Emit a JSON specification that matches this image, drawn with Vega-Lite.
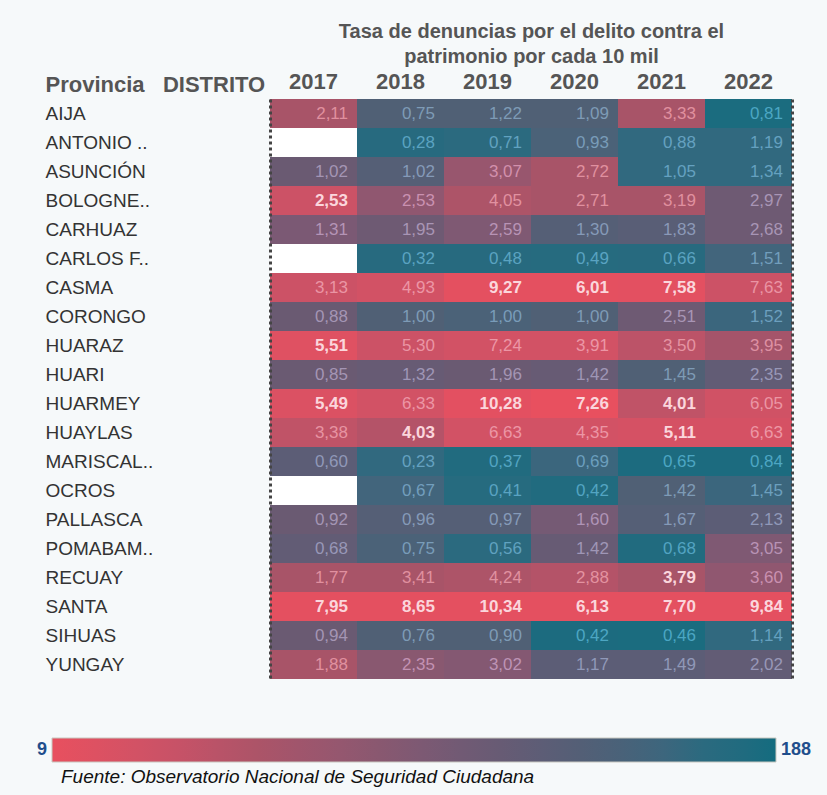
{
  "$schema": "https://vega.github.io/schema/vega-lite/v6.json",
  "width": 522,
  "height": 580,
  "autosize": "none",
  "padding": {"left": 270, "top": 99, "right": 35, "bottom": 116},
  "background": "#f6f9fa",
  "config": {
    "locale": {"number": {"decimal": ",", "thousands": ".", "grouping": [3], "currency": ["", " €"]}},
    "view": {"fill": "white", "stroke": null},
    "font": "Arial"
  },
  "title": {
    "text": "Fuente: Observatorio Nacional de Seguridad Ciudadana",
    "orient": "bottom",
    "anchor": "start",
    "dx": 16,
    "offset": 5,
    "fontSize": 19,
    "fontStyle": "italic",
    "fontWeight": "normal",
    "color": "#111",
    "font": "Arial"
  },
  "data": {"values": [
    {"provincia": "AIJA", "anio": "2017", "tasa": 2.11, "rango": 63, "destacado": 0},
    {"provincia": "AIJA", "anio": "2018", "tasa": 0.75, "rango": 143, "destacado": 0},
    {"provincia": "AIJA", "anio": "2019", "tasa": 1.22, "rango": 143, "destacado": 0},
    {"provincia": "AIJA", "anio": "2020", "tasa": 1.09, "rango": 143, "destacado": 0},
    {"provincia": "AIJA", "anio": "2021", "tasa": 3.33, "rango": 63, "destacado": 0},
    {"provincia": "AIJA", "anio": "2022", "tasa": 0.81, "rango": 184, "destacado": 0},
    {"provincia": "ANTONIO ..", "anio": "2018", "tasa": 0.28, "rango": 174, "destacado": 0},
    {"provincia": "ANTONIO ..", "anio": "2019", "tasa": 0.71, "rango": 170, "destacado": 0},
    {"provincia": "ANTONIO ..", "anio": "2020", "tasa": 0.93, "rango": 149, "destacado": 0},
    {"provincia": "ANTONIO ..", "anio": "2021", "tasa": 0.88, "rango": 167, "destacado": 0},
    {"provincia": "ANTONIO ..", "anio": "2022", "tasa": 1.19, "rango": 167, "destacado": 0},
    {"provincia": "ASUNCIÓN", "anio": "2017", "tasa": 1.02, "rango": 116, "destacado": 0},
    {"provincia": "ASUNCIÓN", "anio": "2018", "tasa": 1.02, "rango": 138, "destacado": 0},
    {"provincia": "ASUNCIÓN", "anio": "2019", "tasa": 3.07, "rango": 77, "destacado": 0},
    {"provincia": "ASUNCIÓN", "anio": "2020", "tasa": 2.72, "rango": 63, "destacado": 0},
    {"provincia": "ASUNCIÓN", "anio": "2021", "tasa": 1.05, "rango": 167, "destacado": 0},
    {"provincia": "ASUNCIÓN", "anio": "2022", "tasa": 1.34, "rango": 167, "destacado": 0},
    {"provincia": "BOLOGNE..", "anio": "2017", "tasa": 2.53, "rango": 36, "destacado": 1},
    {"provincia": "BOLOGNE..", "anio": "2018", "tasa": 2.53, "rango": 84, "destacado": 0},
    {"provincia": "BOLOGNE..", "anio": "2019", "tasa": 4.05, "rango": 59, "destacado": 0},
    {"provincia": "BOLOGNE..", "anio": "2020", "tasa": 2.71, "rango": 63, "destacado": 0},
    {"provincia": "BOLOGNE..", "anio": "2021", "tasa": 3.19, "rango": 63, "destacado": 0},
    {"provincia": "BOLOGNE..", "anio": "2022", "tasa": 2.97, "rango": 113, "destacado": 0},
    {"provincia": "CARHUAZ", "anio": "2017", "tasa": 1.31, "rango": 102, "destacado": 0},
    {"provincia": "CARHUAZ", "anio": "2018", "tasa": 1.95, "rango": 113, "destacado": 0},
    {"provincia": "CARHUAZ", "anio": "2019", "tasa": 2.59, "rango": 99, "destacado": 0},
    {"provincia": "CARHUAZ", "anio": "2020", "tasa": 1.30, "rango": 138, "destacado": 0},
    {"provincia": "CARHUAZ", "anio": "2021", "tasa": 1.83, "rango": 134, "destacado": 0},
    {"provincia": "CARHUAZ", "anio": "2022", "tasa": 2.68, "rango": 113, "destacado": 0},
    {"provincia": "CARLOS F..", "anio": "2018", "tasa": 0.32, "rango": 174, "destacado": 0},
    {"provincia": "CARLOS F..", "anio": "2019", "tasa": 0.48, "rango": 174, "destacado": 0},
    {"provincia": "CARLOS F..", "anio": "2020", "tasa": 0.49, "rango": 175, "destacado": 0},
    {"provincia": "CARLOS F..", "anio": "2021", "tasa": 0.66, "rango": 174, "destacado": 0},
    {"provincia": "CARLOS F..", "anio": "2022", "tasa": 1.51, "rango": 156, "destacado": 0},
    {"provincia": "CASMA", "anio": "2017", "tasa": 3.13, "rango": 36, "destacado": 0},
    {"provincia": "CASMA", "anio": "2018", "tasa": 4.93, "rango": 30, "destacado": 0},
    {"provincia": "CASMA", "anio": "2019", "tasa": 9.27, "rango": 13, "destacado": 1},
    {"provincia": "CASMA", "anio": "2020", "tasa": 6.01, "rango": 13, "destacado": 1},
    {"provincia": "CASMA", "anio": "2021", "tasa": 7.58, "rango": 14, "destacado": 1},
    {"provincia": "CASMA", "anio": "2022", "tasa": 7.63, "rango": 36, "destacado": 0},
    {"provincia": "CORONGO", "anio": "2017", "tasa": 0.88, "rango": 116, "destacado": 0},
    {"provincia": "CORONGO", "anio": "2018", "tasa": 1.00, "rango": 143, "destacado": 0},
    {"provincia": "CORONGO", "anio": "2019", "tasa": 1.00, "rango": 149, "destacado": 0},
    {"provincia": "CORONGO", "anio": "2020", "tasa": 1.00, "rango": 143, "destacado": 0},
    {"provincia": "CORONGO", "anio": "2021", "tasa": 2.51, "rango": 113, "destacado": 0},
    {"provincia": "CORONGO", "anio": "2022", "tasa": 1.52, "rango": 161, "destacado": 0},
    {"provincia": "HUARAZ", "anio": "2017", "tasa": 5.51, "rango": 18, "destacado": 1},
    {"provincia": "HUARAZ", "anio": "2018", "tasa": 5.30, "rango": 36, "destacado": 0},
    {"provincia": "HUARAZ", "anio": "2019", "tasa": 7.24, "rango": 30, "destacado": 0},
    {"provincia": "HUARAZ", "anio": "2020", "tasa": 3.91, "rango": 30, "destacado": 0},
    {"provincia": "HUARAZ", "anio": "2021", "tasa": 3.50, "rango": 48, "destacado": 0},
    {"provincia": "HUARAZ", "anio": "2022", "tasa": 3.95, "rango": 66, "destacado": 0},
    {"provincia": "HUARI", "anio": "2017", "tasa": 0.85, "rango": 116, "destacado": 0},
    {"provincia": "HUARI", "anio": "2018", "tasa": 1.32, "rango": 120, "destacado": 0},
    {"provincia": "HUARI", "anio": "2019", "tasa": 1.96, "rango": 116, "destacado": 0},
    {"provincia": "HUARI", "anio": "2020", "tasa": 1.42, "rango": 120, "destacado": 0},
    {"provincia": "HUARI", "anio": "2021", "tasa": 1.45, "rango": 143, "destacado": 0},
    {"provincia": "HUARI", "anio": "2022", "tasa": 2.35, "rango": 125, "destacado": 0},
    {"provincia": "HUARMEY", "anio": "2017", "tasa": 5.49, "rango": 22, "destacado": 1},
    {"provincia": "HUARMEY", "anio": "2018", "tasa": 6.33, "rango": 30, "destacado": 0},
    {"provincia": "HUARMEY", "anio": "2019", "tasa": 10.28, "rango": 14, "destacado": 1},
    {"provincia": "HUARMEY", "anio": "2020", "tasa": 7.26, "rango": 9, "destacado": 1},
    {"provincia": "HUARMEY", "anio": "2021", "tasa": 4.01, "rango": 45, "destacado": 1},
    {"provincia": "HUARMEY", "anio": "2022", "tasa": 6.05, "rango": 32, "destacado": 0},
    {"provincia": "HUAYLAS", "anio": "2017", "tasa": 3.38, "rango": 45, "destacado": 0},
    {"provincia": "HUAYLAS", "anio": "2018", "tasa": 4.03, "rango": 54, "destacado": 1},
    {"provincia": "HUAYLAS", "anio": "2019", "tasa": 6.63, "rango": 30, "destacado": 0},
    {"provincia": "HUAYLAS", "anio": "2020", "tasa": 4.35, "rango": 30, "destacado": 0},
    {"provincia": "HUAYLAS", "anio": "2021", "tasa": 5.11, "rango": 27, "destacado": 1},
    {"provincia": "HUAYLAS", "anio": "2022", "tasa": 6.63, "rango": 27, "destacado": 0},
    {"provincia": "MARISCAL..", "anio": "2017", "tasa": 0.60, "rango": 131, "destacado": 0},
    {"provincia": "MARISCAL..", "anio": "2018", "tasa": 0.23, "rango": 167, "destacado": 0},
    {"provincia": "MARISCAL..", "anio": "2019", "tasa": 0.37, "rango": 179, "destacado": 0},
    {"provincia": "MARISCAL..", "anio": "2020", "tasa": 0.69, "rango": 161, "destacado": 0},
    {"provincia": "MARISCAL..", "anio": "2021", "tasa": 0.65, "rango": 183, "destacado": 0},
    {"provincia": "MARISCAL..", "anio": "2022", "tasa": 0.84, "rango": 183, "destacado": 0},
    {"provincia": "OCROS", "anio": "2018", "tasa": 0.67, "rango": 156, "destacado": 0},
    {"provincia": "OCROS", "anio": "2019", "tasa": 0.41, "rango": 175, "destacado": 0},
    {"provincia": "OCROS", "anio": "2020", "tasa": 0.42, "rango": 179, "destacado": 0},
    {"provincia": "OCROS", "anio": "2021", "tasa": 1.42, "rango": 143, "destacado": 0},
    {"provincia": "OCROS", "anio": "2022", "tasa": 1.45, "rango": 161, "destacado": 0},
    {"provincia": "PALLASCA", "anio": "2017", "tasa": 0.92, "rango": 116, "destacado": 0},
    {"provincia": "PALLASCA", "anio": "2018", "tasa": 0.96, "rango": 138, "destacado": 0},
    {"provincia": "PALLASCA", "anio": "2019", "tasa": 0.97, "rango": 138, "destacado": 0},
    {"provincia": "PALLASCA", "anio": "2020", "tasa": 1.60, "rango": 107, "destacado": 0},
    {"provincia": "PALLASCA", "anio": "2021", "tasa": 1.67, "rango": 138, "destacado": 0},
    {"provincia": "PALLASCA", "anio": "2022", "tasa": 2.13, "rango": 131, "destacado": 0},
    {"provincia": "POMABAM..", "anio": "2017", "tasa": 0.68, "rango": 125, "destacado": 0},
    {"provincia": "POMABAM..", "anio": "2018", "tasa": 0.75, "rango": 149, "destacado": 0},
    {"provincia": "POMABAM..", "anio": "2019", "tasa": 0.56, "rango": 170, "destacado": 0},
    {"provincia": "POMABAM..", "anio": "2020", "tasa": 1.42, "rango": 120, "destacado": 0},
    {"provincia": "POMABAM..", "anio": "2021", "tasa": 0.68, "rango": 179, "destacado": 0},
    {"provincia": "POMABAM..", "anio": "2022", "tasa": 3.05, "rango": 99, "destacado": 0},
    {"provincia": "RECUAY", "anio": "2017", "tasa": 1.77, "rango": 63, "destacado": 0},
    {"provincia": "RECUAY", "anio": "2018", "tasa": 3.41, "rango": 63, "destacado": 0},
    {"provincia": "RECUAY", "anio": "2019", "tasa": 4.24, "rango": 59, "destacado": 0},
    {"provincia": "RECUAY", "anio": "2020", "tasa": 2.88, "rango": 54, "destacado": 0},
    {"provincia": "RECUAY", "anio": "2021", "tasa": 3.79, "rango": 63, "destacado": 1},
    {"provincia": "RECUAY", "anio": "2022", "tasa": 3.60, "rango": 84, "destacado": 0},
    {"provincia": "SANTA", "anio": "2017", "tasa": 7.95, "rango": 13, "destacado": 1},
    {"provincia": "SANTA", "anio": "2018", "tasa": 8.65, "rango": 13, "destacado": 1},
    {"provincia": "SANTA", "anio": "2019", "tasa": 10.34, "rango": 13, "destacado": 1},
    {"provincia": "SANTA", "anio": "2020", "tasa": 6.13, "rango": 13, "destacado": 1},
    {"provincia": "SANTA", "anio": "2021", "tasa": 7.70, "rango": 13, "destacado": 1},
    {"provincia": "SANTA", "anio": "2022", "tasa": 9.84, "rango": 13, "destacado": 1},
    {"provincia": "SIHUAS", "anio": "2017", "tasa": 0.94, "rango": 116, "destacado": 0},
    {"provincia": "SIHUAS", "anio": "2018", "tasa": 0.76, "rango": 143, "destacado": 0},
    {"provincia": "SIHUAS", "anio": "2019", "tasa": 0.90, "rango": 143, "destacado": 0},
    {"provincia": "SIHUAS", "anio": "2020", "tasa": 0.42, "rango": 183, "destacado": 0},
    {"provincia": "SIHUAS", "anio": "2021", "tasa": 0.46, "rango": 184, "destacado": 0},
    {"provincia": "SIHUAS", "anio": "2022", "tasa": 1.14, "rango": 167, "destacado": 0},
    {"provincia": "YUNGAY", "anio": "2017", "tasa": 1.88, "rango": 63, "destacado": 0},
    {"provincia": "YUNGAY", "anio": "2018", "tasa": 2.35, "rango": 90, "destacado": 0},
    {"provincia": "YUNGAY", "anio": "2019", "tasa": 3.02, "rango": 95, "destacado": 0},
    {"provincia": "YUNGAY", "anio": "2020", "tasa": 1.17, "rango": 131, "destacado": 0},
    {"provincia": "YUNGAY", "anio": "2021", "tasa": 1.49, "rango": 131, "destacado": 0},
    {"provincia": "YUNGAY", "anio": "2022", "tasa": 2.02, "rango": 125, "destacado": 0}
  ]},
  "encoding": {
    "x": {
      "field": "anio", "type": "ordinal", "sort": null,
      "scale": {"paddingInner": 0, "paddingOuter": 0},
      "axis": {
        "orient": "top", "ticks": false, "domain": false,
        "labelAngle": 0, "labelFontSize": 22, "labelFontWeight": "bold", "labelColor": "#555",
        "labelPadding": 6, "labelFont": "Arial",
        "title": ["Tasa de denuncias por el delito contra el", "patrimonio por cada 10 mil"],
        "titleFontSize": 20, "titleFontWeight": "bold", "titleColor": "#555", "titleFont": "Arial",
        "titlePadding": 4, "titleLineHeight": 25
      }
    }
  },
  "layer": [
    {
      "mark": {"type": "rect"},
      "encoding": {
        "y": {
          "field": "provincia", "type": "nominal", "sort": null,
          "scale": {"paddingInner": 0, "paddingOuter": 0},
          "axis": {
            "orient": "left",
            "ticks": false, "domain": true, "domainDash": [3, 3], "domainWidth": 3, "domainColor": "#444",
            "zindex": 1,
            "labelAlign": "left", "labelPadding": 225, "labelFontSize": 19, "labelColor": "#333",
            "labelFont": "Arial", "labelLimit": 200,
            "title": "Provincia\u00a0\u00a0\u00a0DISTRITO", "titleAngle": 0, "titleAlign": "left",
            "titleBaseline": "alphabetic", "titleX": -225, "titleY": -8,
            "titleFontSize": 22, "titleFontWeight": "bold", "titleColor": "#555", "titleFont": "Arial"
          }
        },
        "color": {
          "field": "rango", "type": "quantitative",
          "scale": {
            "domain": [9, 35.85, 62.7, 89.55, 116.4, 143.25, 170.1, 188],
            "range": ["#e8505f", "#cc5266", "#a85468", "#8a5870", "#6a5a72", "#506075", "#2b6a7f", "#146c7f"]
          },
          "legend": {
            "orient": "none", "legendX": -218, "legendY": 639,
            "direction": "horizontal", "title": null,
            "gradientLength": 724, "gradientThickness": 24,
            "gradientStrokeColor": "#c8c8c0", "gradientStrokeWidth": 1,
            "values": [9, 188], "format": "d",
            "labelFontSize": 18, "labelFontWeight": "bold", "labelColor": "#1f4e8c", "labelFont": "Arial",
            "labelOffset": -12, "labelBaseline": "middle",
            "encode": {"labels": {"update": {
              "align": {"signal": "datum.perc < 0.5 ? 'right' : 'left'"},
              "baseline": {"value": "middle"},
              "dx": {"signal": "datum.perc < 0.5 ? -5 : 5"}
            }}}
          }
        }
      }
    },
    {
      "transform": [{"filter": "datum.destacado == 0"}],
      "mark": {"type": "text", "align": "right", "baseline": "middle", "dx": -9, "fontSize": 17, "font": "Arial"},
      "encoding": {
        "x": {"field": "anio", "type": "ordinal", "sort": null, "bandPosition": 1},
        "y": {"field": "provincia", "type": "nominal", "sort": null, "axis": null},
        "text": {"field": "tasa", "type": "quantitative", "format": ".2f"},
        "color": {
          "field": "rango", "type": "quantitative",
          "scale": {
            "domain": [9, 62.7, 116.4, 143.25, 188],
            "range": ["#f49aa8", "#e0909f", "#a495b4", "#7e9bb6", "#43a7c3"]
          },
          "legend": null
        }
      }
    },
    {
      "transform": [{"filter": "datum.destacado == 1"}],
      "mark": {"type": "text", "align": "right", "baseline": "middle", "dx": -9, "fontSize": 17, "font": "Arial", "fontWeight": "bold", "color": "#fbd6dc"},
      "encoding": {
        "x": {"field": "anio", "type": "ordinal", "sort": null, "bandPosition": 1},
        "y": {
          "field": "provincia", "type": "nominal", "sort": null,
          "axis": {"orient": "right", "labels": false, "ticks": false, "title": null,
                   "domain": true, "domainDash": [3, 3], "domainWidth": 3, "domainColor": "#444", "zindex": 1}
        },
        "text": {"field": "tasa", "type": "quantitative", "format": ".2f"}
      }
    }
  ],
  "resolve": {"scale": {"color": "independent"}, "axis": {"y": "independent"}}
}
